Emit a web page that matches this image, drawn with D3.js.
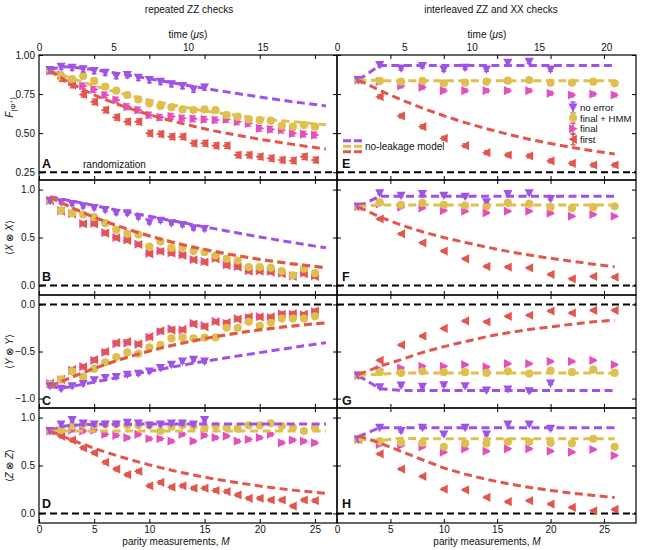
<!DOCTYPE html>
<html><head><meta charset="utf-8">
<script src="https://cdn.jsdelivr.net/npm/d3@7"></script>
<style>
body{margin:0;background:#fff}
text{font-family:"Liberation Sans",Arial,Helvetica,sans-serif;fill:#111}
</style></head>
<body><svg id="c" width="659" height="550"></svg>
<script>
// ---------- data ----------
const mLeft = [1,2,3,4,5,6,7,8,9,10,11,12,13,14,15,16,17,18,19,20,21,22,23,24,25];
const mLeftModel = [1,2,3,4,5,6,7,8,9,10,11,12,13,14,15,16,17,18,19,20,21,22,23,24,25,26];
const mRight = [2,4,6,8,10,12,14,16,18,20,22,24,26];
const timeTicksLeft = [0,5,10,15];
const timeTicksRight = [0,5,10,15,20];
const mTicks = [0,5,10,15,20,25];
const seriesNames = ["no error","final + HMM","final","first"];

// Panel A  F|Φ+>
const A_noError = [0.904,0.925,0.919,0.91,0.898,0.887,0.866,0.872,0.855,0.84,0.829,0.814,0.802,0.78,0.793];
const A_finalHMM = [0.904,0.865,0.846,0.866,0.834,0.798,0.772,0.744,0.716,0.691,0.674,0.665,0.652,0.648,0.652,0.648,0.616,0.605,0.588,0.584,0.58,0.546,0.541,0.552,0.541];
const A_final = [0.898,0.872,0.829,0.802,0.78,0.744,0.712,0.669,0.648,0.616,0.601,0.607,0.595,0.592,0.588,0.584,0.588,0.573,0.563,0.531,0.524,0.52,0.499,0.494,0.488];
const A_first = [0.9,0.85,0.808,0.748,0.7,0.648,0.601,0.573,0.573,0.499,0.494,0.477,0.477,0.435,0.435,0.42,0.42,0.36,0.36,0.349,0.339,0.328,0.324,0.349,0.328];
const A_modelNoErr = [0.905,0.925,0.922,0.915,0.905,0.895,0.884,0.872,0.86,0.848,0.836,0.823,0.811,0.799,0.787,0.775,0.764,0.753,0.742,0.731,0.721,0.711,0.701,0.692,0.683,0.674];
const A_modelHMM = [0.9,0.875,0.85,0.826,0.804,0.783,0.763,0.745,0.727,0.711,0.696,0.682,0.668,0.655,0.643,0.632,0.622,0.612,0.603,0.595,0.587,0.58,0.573,0.566,0.56,0.554];
const A_modelFirst = [0.9,0.855,0.815,0.778,0.745,0.715,0.688,0.663,0.64,0.618,0.598,0.579,0.561,0.544,0.528,0.513,0.499,0.486,0.473,0.461,0.45,0.439,0.428,0.418,0.408,0.398];

// Panel B  <X⊗X>
const B_noError = [0.885,0.868,0.851,0.826,0.809,0.788,0.757,0.753,0.712,0.66,0.677,0.649,0.632,0.597,0.59];
const B_finalHMM = [0.885,0.781,0.753,0.74,0.712,0.649,0.58,0.538,0.531,0.406,0.458,0.392,0.392,0.358,0.347,0.312,0.278,0.26,0.191,0.191,0.184,0.149,0.104,0.174,0.128];
const B_final = [0.885,0.78,0.75,0.645,0.648,0.55,0.5,0.475,0.43,0.335,0.36,0.34,0.318,0.27,0.25,0.283,0.215,0.198,0.155,0.155,0.145,0.128,0.1,0.128,0.1];
const B_first = [0.885,0.774,0.747,0.642,0.642,0.545,0.497,0.469,0.427,0.33,0.354,0.337,0.312,0.267,0.243,0.278,0.208,0.191,0.149,0.149,0.139,0.122,0.094,0.122,0.094];
const B_modelNoErr = [0.925,0.903,0.88,0.857,0.834,0.811,0.788,0.765,0.743,0.721,0.699,0.677,0.655,0.633,0.611,0.59,0.568,0.547,0.526,0.506,0.486,0.467,0.448,0.429,0.41,0.392];
const B_modelHMM = [0.922,0.866,0.812,0.762,0.714,0.67,0.628,0.59,0.553,0.519,0.487,0.456,0.428,0.402,0.377,0.354,0.332,0.311,0.292,0.274,0.257,0.241,0.226,0.213,0.2,0.187];
const B_modelFirst = [0.92,0.863,0.809,0.759,0.711,0.667,0.625,0.587,0.55,0.516,0.484,0.453,0.425,0.399,0.374,0.351,0.329,0.308,0.289,0.271,0.254,0.238,0.223,0.21,0.197,0.184];

// Panel C  <Y⊗Y>
const C_noError = [-0.867,-0.895,-0.867,-0.843,-0.804,-0.78,-0.769,-0.745,-0.734,-0.71,-0.675,-0.64,-0.605,-0.587,-0.605];
const C_finalHMM = [-0.85,-0.797,-0.71,-0.769,-0.685,-0.615,-0.559,-0.51,-0.524,-0.455,-0.43,-0.36,-0.35,-0.36,-0.353,-0.35,-0.248,-0.248,-0.185,-0.227,-0.196,-0.15,-0.15,-0.15,-0.126];
const C_final = [-0.84,-0.8,-0.7,-0.66,-0.595,-0.51,-0.42,-0.41,-0.425,-0.35,-0.29,-0.26,-0.27,-0.2,-0.225,-0.18,-0.2,-0.15,-0.14,-0.13,-0.14,-0.1,-0.105,-0.11,-0.08];
const C_first = [-0.839,-0.797,-0.692,-0.664,-0.587,-0.5,-0.406,-0.395,-0.42,-0.343,-0.28,-0.273,-0.266,-0.21,-0.238,-0.185,-0.192,-0.157,-0.133,-0.133,-0.133,-0.105,-0.098,-0.105,-0.07];
const C_modelNoErr = [-0.87,-0.89,-0.87,-0.848,-0.825,-0.802,-0.779,-0.756,-0.733,-0.71,-0.688,-0.666,-0.645,-0.624,-0.604,-0.585,-0.566,-0.548,-0.53,-0.512,-0.494,-0.476,-0.458,-0.44,-0.423,-0.406];
const C_modelHMM = [-0.872,-0.823,-0.773,-0.728,-0.683,-0.641,-0.601,-0.564,-0.529,-0.497,-0.467,-0.439,-0.413,-0.389,-0.366,-0.345,-0.325,-0.306,-0.289,-0.273,-0.258,-0.244,-0.231,-0.219,-0.208,-0.198];
const C_modelFirst = [-0.87,-0.82,-0.77,-0.725,-0.68,-0.638,-0.598,-0.561,-0.526,-0.494,-0.464,-0.436,-0.41,-0.386,-0.363,-0.342,-0.322,-0.303,-0.286,-0.27,-0.255,-0.241,-0.228,-0.216,-0.205,-0.195];

// Panel D  <Z⊗Z>
const D_noError = [0.86,0.93,0.975,0.94,0.93,0.93,0.93,0.947,0.94,0.919,0.93,0.94,0.94,0.93,0.975];
const D_finalHMM = [0.86,0.87,0.912,0.93,0.919,0.93,0.93,0.919,0.919,0.919,0.86,0.905,0.919,0.912,0.895,0.912,0.895,0.884,0.919,0.919,0.94,0.912,0.895,0.86,0.895];
const D_final = [0.86,0.86,0.87,0.86,0.87,0.825,0.814,0.79,0.825,0.779,0.779,0.754,0.825,0.754,0.814,0.79,0.807,0.754,0.772,0.79,0.825,0.737,0.765,0.754,0.737];
const D_first = [0.86,0.807,0.765,0.684,0.632,0.533,0.463,0.404,0.439,0.288,0.323,0.274,0.288,0.263,0.263,0.239,0.228,0.193,0.158,0.158,0.14,0.14,0.077,0.14,0.133];
const D_modelNoErr = [0.86,0.905,0.92,0.926,0.929,0.93,0.931,0.931,0.932,0.932,0.932,0.932,0.933,0.933,0.933,0.933,0.933,0.933,0.933,0.933,0.933,0.933,0.933,0.933,0.933,0.933];
const D_modelHMM = [0.86,0.86,0.86,0.86,0.86,0.86,0.86,0.86,0.86,0.86,0.86,0.86,0.86,0.86,0.86,0.86,0.86,0.86,0.86,0.86,0.86,0.86,0.86,0.86,0.86,0.86];
const D_modelFirst = [0.86,0.811,0.765,0.721,0.68,0.641,0.605,0.57,0.538,0.507,0.478,0.451,0.425,0.401,0.378,0.357,0.34,0.321,0.303,0.285,0.27,0.256,0.243,0.231,0.22,0.21];

// Panel E  F|Φ+>  (interleaved)
const E_noError = [0.84,0.936,0.915,0.93,0.908,0.919,0.908,0.951,0.957,0.908];
const E_finalHMM = [0.84,0.834,0.829,0.834,0.819,0.823,0.829,0.836,0.84,0.823,0.823,0.829,0.819];
const E_final = [0.84,0.83,0.802,0.793,0.772,0.772,0.772,0.772,0.772,0.755,0.744,0.75,0.744];
const E_first = [0.84,0.733,0.61,0.541,0.467,0.42,0.375,0.36,0.354,0.322,0.307,0.296,0.296];
const E_modelNoErr = [0.84,0.933,0.933,0.933,0.933,0.933,0.933,0.933,0.933,0.933,0.933,0.933,0.933];
const E_modelHMM = [0.84,0.836,0.836,0.836,0.836,0.836,0.836,0.836,0.836,0.836,0.836,0.836,0.836];
const E_modelFirst = [0.84,0.774,0.714,0.66,0.611,0.567,0.528,0.493,0.461,0.433,0.408,0.386,0.366];

// Panel F  <X⊗X>
const F_noError = [0.823,0.962,0.938,0.955,0.938,0.927,0.868,0.955,0.962,0.903];
const F_finalHMM = [0.823,0.868,0.84,0.861,0.84,0.833,0.826,0.861,0.851,0.816,0.806,0.816,0.826];
const F_final = [0.823,0.85,0.816,0.809,0.781,0.774,0.757,0.774,0.774,0.753,0.722,0.74,0.722];
const F_first = [0.823,0.694,0.538,0.444,0.358,0.278,0.198,0.191,0.184,0.115,0.069,0.094,0.087];
const F_modelNoErr = [0.823,0.93,0.93,0.93,0.93,0.93,0.93,0.93,0.93,0.93,0.93,0.93,0.93];
const F_modelHMM = [0.823,0.84,0.84,0.84,0.84,0.84,0.84,0.84,0.84,0.84,0.84,0.84,0.84];
const F_modelFirst = [0.82,0.715,0.63,0.56,0.5,0.448,0.4,0.355,0.317,0.283,0.252,0.222,0.195];

// Panel G  <Y⊗Y>
const G_noError = [-0.755,-0.878,-0.86,-0.874,-0.857,-0.867,-0.913,-0.902,-0.92,-0.839];
const G_finalHMM = [-0.755,-0.72,-0.727,-0.71,-0.72,-0.72,-0.727,-0.71,-0.734,-0.703,-0.72,-0.692,-0.727];
const G_final = [-0.755,-0.692,-0.675,-0.657,-0.657,-0.64,-0.664,-0.629,-0.629,-0.605,-0.605,-0.594,-0.64];
const G_first = [-0.755,-0.594,-0.43,-0.336,-0.255,-0.175,-0.185,-0.126,-0.115,-0.07,-0.091,-0.063,-0.063];
const G_modelNoErr = [-0.755,-0.895,-0.913,-0.913,-0.913,-0.913,-0.913,-0.913,-0.913,-0.913,-0.913,-0.913,-0.913];
const G_modelHMM = [-0.755,-0.74,-0.727,-0.727,-0.727,-0.727,-0.727,-0.727,-0.727,-0.727,-0.727,-0.727,-0.727];
const G_modelFirst = [-0.745,-0.657,-0.587,-0.51,-0.448,-0.395,-0.343,-0.301,-0.266,-0.238,-0.21,-0.185,-0.168];

// Panel H  <Z⊗Z>
const H_noError = [0.772,0.895,0.86,0.895,0.825,0.895,0.825,0.93,0.93,0.884];
const H_finalHMM = [0.772,0.754,0.74,0.737,0.695,0.73,0.73,0.747,0.747,0.737,0.73,0.779,0.695];
const H_final = [0.772,0.719,0.709,0.695,0.639,0.674,0.649,0.674,0.674,0.649,0.639,0.667,0.604];
const H_first = [0.772,0.621,0.463,0.386,0.253,0.246,0.168,0.123,0.133,0.098,0.063,0.028,0.042];
const H_modelNoErr = [0.8,0.895,0.895,0.895,0.895,0.895,0.895,0.895,0.895,0.895,0.895,0.895,0.895];
const H_modelHMM = [0.772,0.76,0.785,0.779,0.779,0.779,0.779,0.779,0.779,0.779,0.779,0.779,0.779];
const H_modelFirst = [0.81,0.735,0.648,0.56,0.474,0.41,0.355,0.31,0.272,0.24,0.212,0.188,0.165];

const errLeft = 0.018, errRight = 0.012;

// ---------- layout / style ----------
const COL = {noError:"#a052e6", finalHMM:"#dfc04e", final:"#e34fbe", first:"#e2564c"};
const svg = d3.select("#c");
const xLeft = d3.scaleLinear().domain([0,27]).range([39,337]);
const xRight = d3.scaleLinear().domain([0,28]).range([337,636]);
const tLeft = d3.scaleLinear().domain([0,20]).range([39,337]);
const tRight = d3.scaleLinear().domain([0,22.2]).range([337,636]);

const rows = [
  {dom:[0.2,1.0], rng:[180,55], ticks:[0.25,0.5,0.75,1.0], fmt:".2f", ref:0.25},
  {dom:[-0.1,1.1], rng:[295,180], ticks:[0,0.5,1.0], fmt:".1f", ref:0},
  {dom:[-1.1,0.1], rng:[408,295], ticks:[-1.0,-0.5,0], fmt:".1f", ref:0},
  {dom:[-0.1,1.1], rng:[523,408], ticks:[0,0.5,1.0], fmt:".1f", ref:0}
];
rows.forEach(r => r.y = d3.scaleLinear().domain(r.dom).range(r.rng));

const panels = [
  {id:"A",col:0,row:0,d:[A_noError,A_finalHMM,A_final,A_first],m:[A_modelNoErr,A_modelHMM,A_modelFirst]},
  {id:"B",col:0,row:1,d:[B_noError,B_finalHMM,B_final,B_first],m:[B_modelNoErr,B_modelHMM,B_modelFirst]},
  {id:"C",col:0,row:2,d:[C_noError,C_finalHMM,C_final,C_first],m:[C_modelNoErr,C_modelHMM,C_modelFirst]},
  {id:"D",col:0,row:3,d:[D_noError,D_finalHMM,D_final,D_first],m:[D_modelNoErr,D_modelHMM,D_modelFirst]},
  {id:"E",col:1,row:0,d:[E_noError,E_finalHMM,E_final,E_first],m:[E_modelNoErr,E_modelHMM,E_modelFirst]},
  {id:"F",col:1,row:1,d:[F_noError,F_finalHMM,F_final,F_first],m:[F_modelNoErr,F_modelHMM,F_modelFirst]},
  {id:"G",col:1,row:2,d:[G_noError,G_finalHMM,G_final,G_first],m:[G_modelNoErr,G_modelHMM,G_modelFirst]},
  {id:"H",col:1,row:3,d:[H_noError,H_finalHMM,H_final,H_first],m:[H_modelNoErr,H_modelHMM,H_modelFirst]}
];
const letterBase = [168,281,405,508];

function marker(g, kind, x, y, color){
  if(kind==="noError"){
    g.append("path").attr("d",`M${x-4.6},${y-3.9}L${x+4.6},${y-3.9}L${x},${y+4.5}Z`).attr("fill",color);
  } else if(kind==="finalHMM"){
    g.append("circle").attr("cx",x).attr("cy",y).attr("r",4.1).attr("fill",color);
  } else if(kind==="final"){
    g.append("path").attr("d",`M${x-3.9},${y-4.6}L${x-3.9},${y+4.6}L${x+4.5},${y}Z`).attr("fill",color);
  } else {
    g.append("path").attr("d",`M${x+3.9},${y-4.6}L${x+3.9},${y+4.6}L${x-4.5},${y}Z`).attr("fill",color);
  }
}
function errbar(g, x, y1, y2, color){
  g.append("line").attr("x1",x).attr("x2",x).attr("y1",y1).attr("y2",y2).attr("stroke",color).attr("stroke-width",1.6);
  [y1,y2].forEach(yy=>g.append("line").attr("x1",x-2.5).attr("x2",x+2.5).attr("y1",yy).attr("y2",yy).attr("stroke",color).attr("stroke-width",1.4));
}

const kinds = ["noError","finalHMM","final","first"];
const drawOrder = [2,3,1,0];

panels.forEach(p=>{
  const r = rows[p.row];
  const y = r.y;
  const x = p.col===0 ? xLeft : xRight;
  const mData = p.col===0 ? mLeft : mRight;
  const mModel = p.col===0 ? mLeftModel : mRight;
  const err = p.col===0 ? errLeft : errRight;
  const g = svg.append("g");
  const [x0,x1] = x.range();
  const [yb,yt] = r.rng;

  // reference dashed line
  g.append("line").attr("x1",x0).attr("x2",x1).attr("y1",y(r.ref)).attr("y2",y(r.ref))
    .attr("stroke","#000").attr("stroke-width",2).attr("stroke-dasharray","7,4");

  // markers
  drawOrder.forEach(si=>{
    const arr = p.d[si], kind = kinds[si], c = COL[kind];
    const mg = g.append("g");
    arr.forEach((v,i)=>{
      const xx = x(mData[i]);
      errbar(mg, xx, y(v-err), y(v+err), c);
      marker(mg, kind, xx, y(v), c);
    });
  });
  // model lines
  const line = d3.line().x((d,i)=>x(mModel[i])).y(d=>y(d));
  [["noError",0],["finalHMM",1],["first",2]].forEach(([k,i])=>{
    g.append("path").attr("d",line(p.m[i])).attr("fill","none").attr("stroke",COL[k])
      .attr("stroke-width",3).attr("stroke-dasharray","8,4.5");
  });

  // frame
  g.append("rect").attr("x",x0).attr("y",yt).attr("width",x1-x0).attr("height",yb-yt)
    .attr("fill","none").attr("stroke","#000").attr("stroke-width",1.2);

  // y axes (inward ticks)
  const la = d3.axisLeft(y).tickValues(r.ticks).tickSize(-4).tickPadding(4)
    .tickFormat(p.col===0 ? d3.format(r.fmt) : "");
  const lg = g.append("g").attr("transform",`translate(${x0},0)`).call(la);
  const ra = d3.axisRight(y).tickValues(r.ticks).tickSize(-4).tickFormat("");
  const rg = g.append("g").attr("transform",`translate(${x1},0)`).call(ra);
  // x axes (inward ticks)
  const ba = d3.axisBottom(x).tickValues(mTicks).tickSize(-4).tickPadding(3)
    .tickFormat(p.row===3 ? d3.format("d") : "");
  const bg = g.append("g").attr("transform",`translate(0,${yb})`).call(ba);
  const ta = d3.axisTop(x).tickValues(mTicks.slice(1)).tickSize(-4).tickFormat("");
  const tg = g.append("g").attr("transform",`translate(0,${yt})`).call(ta);
  [lg,rg,bg,tg].forEach(a=>{
    a.select(".domain").remove();
    a.selectAll("line").attr("stroke","#000").attr("stroke-width",1);
    a.selectAll("text").attr("font-size",10).attr("fill","#111")
      .attr("font-family",'"Liberation Sans",Arial,sans-serif');
  });

  // panel letter
  g.append("text").attr("x", p.col===0 ? 42 : 342).attr("y", letterBase[p.row])
    .attr("font-size",12.5).attr("font-weight","bold").text(p.id);
});

// top time axes
[[tLeft,timeTicksLeft],[tRight,timeTicksRight]].forEach(([t,tv])=>{
  const a = svg.append("g").attr("transform","translate(0,55)")
    .call(d3.axisTop(t).tickValues(tv).tickSize(0).tickPadding(4));
  a.select(".domain").remove();
  a.selectAll("text").attr("font-size",10).attr("fill","#111").attr("font-family",'"Liberation Sans",Arial,sans-serif');
});

// titles
function txt(x,y,opt={}){
  return svg.append("text").attr("x",x).attr("y",y).attr("text-anchor",opt.anchor||"middle")
    .attr("font-size",opt.size||10);
}
txt(189,13).text("repeated ZZ checks");
txt(491,13).text("interleaved ZZ and XX checks");
[188,487].forEach(cx=>{
  const t = txt(cx,38);
  t.append("tspan").text("time (");
  t.append("tspan").attr("font-style","italic").text("μ");
  t.append("tspan").text("s)");
});
[176,487].forEach(cx=>{
  const t = txt(cx,545);
  t.append("tspan").text("parity measurements, ");
  t.append("tspan").attr("font-style","italic").text("M");
});
txt(83,168,{anchor:"start"}).text("randomization");

// y-axis titles
const yTitles = [
  (t)=>{t.append("tspan").attr("font-style","italic").text("F");
        t.append("tspan").attr("font-size",7.5).attr("dy",3).text("|Φ");
        t.append("tspan").attr("font-size",5.5).attr("dy",-3).text("+");
        t.append("tspan").attr("font-size",7.5).attr("dy",3).text("⟩");},
  (t)=>{t.append("tspan").text("⟨");t.append("tspan").attr("font-style","italic").text("X");
        t.append("tspan").text(" ⊗ ");t.append("tspan").attr("font-style","italic").text("X");t.append("tspan").text("⟩");},
  (t)=>{t.append("tspan").text("⟨");t.append("tspan").attr("font-style","italic").text("Y");
        t.append("tspan").text(" ⊗ ");t.append("tspan").attr("font-style","italic").text("Y");t.append("tspan").text("⟩");},
  (t)=>{t.append("tspan").text("⟨");t.append("tspan").attr("font-style","italic").text("Z");
        t.append("tspan").text(" ⊗ ");t.append("tspan").attr("font-style","italic").text("Z");t.append("tspan").text("⟩");}
];
rows.forEach((r,i)=>{
  const cy = (r.rng[0]+r.rng[1])/2 + (i===0 ? -10 : 0);
  const t = svg.append("text").attr("text-anchor","middle").attr("font-size",10)
    .attr("transform",`translate(13,${cy}) rotate(-90)`);
  yTitles[i](t);
});

// legend (panel E)
const lgX = 573, lgY = [107.5,118,128.7,139.3];
kinds.forEach((k,i)=>{
  const c = COL[k];
  errbar(svg, lgX, lgY[i]-5.5, lgY[i]+5.5, c);
  marker(svg, k, lgX, lgY[i], c);
  svg.append("text").attr("x",580).attr("y",lgY[i]+3.6).attr("font-size",9.6).text(seriesNames[i]);
});
[["noError",140.7],["finalHMM",146.2],["first",151.7]].forEach(([k,yy])=>{
  svg.append("line").attr("x1",343).attr("x2",362).attr("y1",yy).attr("y2",yy)
    .attr("stroke",COL[k]).attr("stroke-width",3).attr("stroke-dasharray","8,3");
});
svg.append("text").attr("x",365).attr("y",150).attr("font-size",10).text("no-leakage model");
</script></body></html>
